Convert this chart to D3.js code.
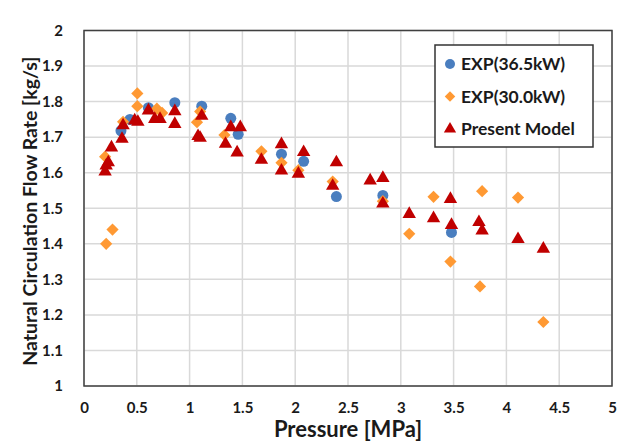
<!DOCTYPE html>
<html>
<head>
<meta charset="utf-8">
<script src="https://cdn.jsdelivr.net/npm/d3@7"></script>
<style>
    body { margin: 0; background: #fff; }
    text { font-family: Lato, "Open Sans", sans-serif; font-weight: bold; fill: #1a1a1a; }
</style>
</head>
<body>
<div id="chart"></div>
<script>
var width = 620,
        height = 444;

// pressure [MPa], flow rate [kg/s]
var exp365 = [[0.35, 1.718], [0.435, 1.75], [0.61, 1.783], [0.86, 1.797], [1.115, 1.787],
    [1.39, 1.753], [1.46, 1.708], [1.87, 1.652], [2.08, 1.632], [2.39, 1.533],
    [2.83, 1.536], [3.48, 1.432]];
var exp300 = [[0.21, 1.40], [0.27, 1.44], [0.2, 1.645], [0.37, 1.743], [0.505, 1.823],
    [0.505, 1.787], [0.69, 1.78], [0.74, 1.768], [1.07, 1.742], [1.10, 1.772],
    [1.33, 1.706], [1.68, 1.66], [1.87, 1.628], [2.03, 1.607], [2.355, 1.575],
    [2.83, 1.52], [3.08, 1.428], [3.31, 1.532], [3.47, 1.35], [3.75, 1.28],
    [3.77, 1.548], [4.11, 1.53], [4.35, 1.18]];
var model = [[0.2, 1.60], [0.21, 1.617], [0.23, 1.626], [0.26, 1.668], [0.36, 1.692],
    [0.37, 1.73], [0.48, 1.744], [0.51, 1.74], [0.61, 1.772], [0.67, 1.748],
    [0.72, 1.748], [0.86, 1.77], [0.86, 1.734], [1.08, 1.70], [1.1, 1.695],
    [1.115, 1.757], [1.34, 1.678], [1.39, 1.725], [1.45, 1.654], [1.48, 1.725],
    [1.68, 1.633], [1.87, 1.677], [1.87, 1.603], [2.03, 1.594], [2.08, 1.655],
    [2.355, 1.56], [2.39, 1.626], [2.71, 1.575], [2.83, 1.582], [2.83, 1.51],
    [3.08, 1.481], [3.31, 1.469], [3.47, 1.523], [3.48, 1.45], [3.74, 1.458],
    [3.77, 1.434], [4.11, 1.41], [4.35, 1.383]];

var xTicks = [0, 0.5, 1, 1.5, 2, 2.5, 3, 3.5, 4, 4.5, 5];
var yTicks = [1, 1.1, 1.2, 1.3, 1.4, 1.5, 1.6, 1.7, 1.8, 1.9, 2];
var legendNames = ["EXP(36.5kW)", "EXP(30.0kW)", "Present Model"];

var x = d3.scaleLinear().domain([0, 5]).range([84, 612]);
var y = d3.scaleLinear().domain([1, 2]).range([386, 30.5]);

var svg = d3.select("#chart").append("svg")
        .attr("width", width)
        .attr("height", height);

// grid
var grid = svg.append("g").attr("id", "grid");
grid.selectAll(".gx")
        .data(xTicks)
        .enter().append("line")
        .attr("x1", function (d) { return x(d); })
        .attr("x2", function (d) { return x(d); })
        .attr("y1", y(1))
        .attr("y2", y(2))
        .attr("stroke", "#d9d9d9")
        .attr("stroke-width", 1.5);
grid.selectAll(".gy")
        .data(yTicks)
        .enter().append("line")
        .attr("x1", x(0))
        .attr("x2", x(5))
        .attr("y1", function (d) { return y(d); })
        .attr("y2", function (d) { return y(d); })
        .attr("stroke", "#d9d9d9")
        .attr("stroke-width", 1.5);

// axes (labels only, Excel style)
var xAxis = svg.append("g")
        .attr("transform", "translate(0," + y(1) + ")")
        .call(d3.axisBottom(x).tickValues(xTicks).tickSize(0).tickPadding(16)
                .tickFormat(d3.format("")));
xAxis.select(".domain").remove();
xAxis.selectAll("text").attr("font-size", 15).style("font-family", null);

var yAxis = svg.append("g")
        .attr("transform", "translate(" + x(0) + ",0)")
        .call(d3.axisLeft(y).tickValues(yTicks).tickSize(0).tickPadding(21)
                .tickFormat(d3.format("")));
yAxis.select(".domain").remove();
yAxis.selectAll("text").attr("font-size", 15).style("font-family", null);

// frame
svg.append("rect")
        .attr("x", x(0))
        .attr("y", y(2))
        .attr("width", x(5) - x(0))
        .attr("height", y(1) - y(2))
        .attr("fill", "none")
        .attr("stroke", "#404040")
        .attr("stroke-width", 1.5);

// titles
svg.append("text")
        .attr("x", (x(0) + x(5)) / 2)
        .attr("y", 437)
        .attr("text-anchor", "middle")
        .attr("font-size", 22)
        .text("Pressure [MPa]");
svg.append("text")
        .attr("transform", "translate(37," + ((y(1) + y(2)) / 2 + 3) + ") rotate(-90)")
        .attr("text-anchor", "middle")
        .attr("font-size", 19.5)
        .text("Natural Circulation Flow Rate [kg/s]");

var diamond = d3.symbol().type(d3.symbolDiamond2).size(95);
var triangle = d3.symbol().type(d3.symbolTriangle).size(78);

var pts = svg.append("g").attr("id", "points");
pts.selectAll(".c")
        .data(exp365)
        .enter().append("circle")
        .attr("cx", function (d) { return x(d[0]); })
        .attr("cy", function (d) { return y(d[1]); })
        .attr("r", 5.5)
        .attr("fill", "#4a7ebf");
pts.selectAll(".dm")
        .data(exp300)
        .enter().append("path")
        .attr("d", diamond)
        .attr("transform", function (d) { return "translate(" + x(d[0]) + "," + y(d[1]) + ")"; })
        .attr("fill", "#ff9933");
pts.selectAll(".tr")
        .data(model)
        .enter().append("path")
        .attr("d", triangle)
        .attr("transform", function (d) { return "translate(" + x(d[0]) + "," + (y(d[1]) - 1) + ")"; })
        .attr("fill", "#c00000");

// legend
var legend = svg.append("g").attr("id", "legend");
legend.append("rect")
        .attr("x", 435)
        .attr("y", 45)
        .attr("width", 158)
        .attr("height", 102)
        .attr("fill", "#fff")
        .attr("stroke", "#333")
        .attr("stroke-width", 1.5);
var rows = legend.selectAll(".row")
        .data(legendNames)
        .enter().append("g")
        .attr("transform", function (d, i) { return "translate(450," + (64 + i * 32.5) + ")"; });
rows.each(function (d, i) {
    var g = d3.select(this);
    if (i === 0)
        g.append("circle").attr("r", 5).attr("fill", "#4a7ebf");
    else if (i === 1)
        g.append("path").attr("d", d3.symbol().type(d3.symbolDiamond2).size(70)).attr("fill", "#ff9933");
    else
        g.append("path").attr("d", d3.symbol().type(d3.symbolTriangle).size(65)).attr("fill", "#c00000");
});
rows.append("text")
        .attr("x", 11)
        .attr("dy", "0.35em")
        .attr("font-size", 17.5)
        .text(function (d) { return d; });
</script>
</body>
</html>
